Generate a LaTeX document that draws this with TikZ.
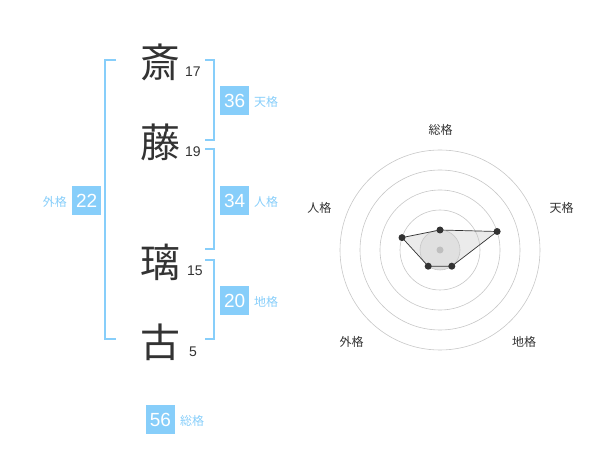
\documentclass[tikz,border=0pt]{standalone}
\usepackage{fontspec}
\setmainfont{Liberation Sans}
\newfontfamily\cjk{Noto Sans CJK JP}
\definecolor{sky}{HTML}{87CEFA}
\definecolor{ink}{HTML}{333333}
\begin{document}
\begin{tikzpicture}[x=1pt,y=-1pt,
  kanji/.style={font=\cjk\fontsize{40}{40}\selectfont, text=ink, inner sep=0pt},
  stroke/.style={font=\fontsize{14}{14}\selectfont, text=ink, inner sep=0pt},
  numbox/.style={fill=sky, text=white, minimum width=29pt, minimum height=29pt, inner sep=0pt, font=\fontsize{19}{19}\selectfont},
  lbl/.style={text=sky, font=\cjk\fontsize{12}{12}\selectfont, inner sep=0pt},
  brk/.style={draw=sky, line width=2pt},
  ring/.style={draw=black!22, line width=0.6pt},
  axl/.style={font=\cjk\fontsize{12}{12}\selectfont, text=ink, inner sep=0pt},
  dot/.style={circle, fill=ink, inner sep=0pt, minimum size=7pt}]
\useasboundingbox (0,0) rectangle (600,470);
% characters
\node[kanji] (c1) at (160,62) {斎};
\node[kanji] (c2) at (160,142) {藤};
\node[kanji] (c3) at (160,262) {璃};
\node[kanji] (c4) at (160,342) {古};
\node[stroke] (s1) at (193,72) {17};
\node[stroke] (s2) at (193,152) {19};
\node[stroke] (s3) at (195,271) {15};
\node[stroke] (s4) at (193,352) {5};
% brackets
\coordinate (L1) at (116,60); \coordinate (L2) at (116,339);
\draw[brk] (L1) -- (105,60) -- (105,339) -- (L2);
\coordinate (T1) at (205,60); \coordinate (T2) at (205,140);
\draw[brk] (T1) -- (214,60) -- (214,140) -- (T2);
\coordinate (J1) at (205,149.5); \coordinate (J2) at (205,249.5);
\draw[brk] (J1) -- (214,149.5) -- (214,249.5) -- (J2);
\coordinate (C1) at (205,260); \coordinate (C2) at (205,339);
\draw[brk] (C1) -- (214,260) -- (214,339) -- (C2);
% boxes
\node[numbox] (b36) at (234.7,100.5) {36};
\node[lbl, anchor=west] (l36) at (254,102) {天格};
\node[numbox] (b34) at (234.7,200.5) {34};
\node[lbl, anchor=west] (l34) at (254,202) {人格};
\node[numbox] (b20) at (234.7,300.5) {20};
\node[lbl, anchor=west] (l20) at (254,302) {地格};
\node[numbox] (b22) at (86.7,200.5) {22};
\node[lbl, anchor=east] (l22) at (67,202) {外格};
\node[numbox] (b56) at (160.5,419.5) {56};
\node[lbl, anchor=west] (l56) at (180,421) {総格};
% radar
\coordinate (O) at (440,250);
\fill[black!8] (440,230) -- (497.1,231.5) -- (451.8,266.2) -- (428.2,266.2) -- (402,237.6) -- cycle;
\fill[black!12] (O) circle (20);
\foreach \r in {20,40,60,80,100} \draw[ring] (O) circle (\r);
\fill[black!25] (O) circle (3.5);
\node[dot] (p1) at (440,230) {};
\node[dot] (p2) at (497.1,231.5) {};
\node[dot] (p3) at (451.8,266.2) {};
\node[dot] (p4) at (428.2,266.2) {};
\node[dot] (p5) at (402,237.6) {};
\draw[ink, line width=0.7pt] (p1.center) -- (p2.center) -- (p3.center) -- (p4.center) -- (p5.center) -- cycle;
\node[axl] (a1) at (440.7,130) {総格};
\node[axl] (a2) at (561.7,208) {天格};
\node[axl] (a3) at (524,342) {地格};
\node[axl] (a4) at (351.7,342) {外格};
\node[axl] (a5) at (319.3,208) {人格};
\end{tikzpicture}
\end{document}
